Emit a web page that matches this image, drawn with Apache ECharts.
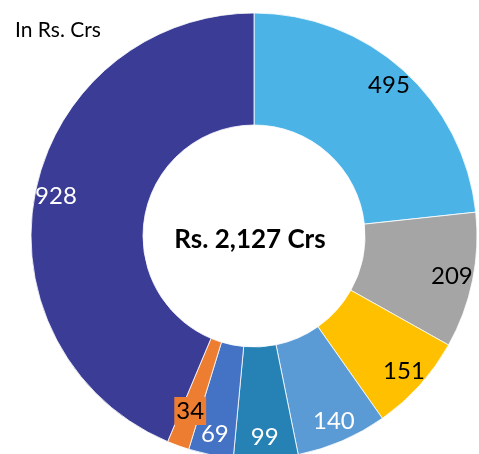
<!DOCTYPE html>
<html>
<head>
<meta charset="utf-8">
<script src="https://cdn.jsdelivr.net/npm/echarts@6/dist/echarts.min.js"></script>
<style>
  html, body { margin: 0; padding: 0; background: #fff; }
  #chart { width: 479px; height: 454px; }
</style>
</head>
<body>
<div id="chart"></div>
<script>
// slice values, clockwise from 12 o'clock
var values = [495, 209, 151, 140, 99, 69, 34, 928];
var colors = ['#4BB3E6', '#A5A5A5', '#FFC000', '#5B9BD5', '#2682B5', '#4472C4', '#ED7D31', '#3A3C95'];
var labelColors = ['#000', '#000', '#000', '#fff', '#fff', '#fff', '#000', '#fff'];
var unitText = 'In Rs. Crs';
var totalText = 'Rs. 2,127 Crs';

var myChart = echarts.init(document.getElementById('chart'));

var ringData = values.map(function (v, i) {
    return { value: v, name: String(i), itemStyle: { color: colors[i] } };
});
var labelData = values.map(function (v, i) {
    var lab = { color: labelColors[i] };
    if (i == 6) {
        // small slice: label sits a bit further in, on an orange box
        lab.backgroundColor = colors[i];
        lab.padding = [3, 2, 1, 2];
        lab.offset = [5, -15];
    }
    return { value: v, name: String(i), label: lab };
});

var option = {
    backgroundColor: '#fff',
    animation: false,
    graphic: [{
        type: 'text',
        left: 15,
        top: 20,
        style: { text: unitText, font: '21px Lato', fill: '#000' }
    }, {
        type: 'text',
        x: 250,
        y: 240,
        style: {
            text: totalText, font: 'bold 26px Lato', fill: '#000',
            align: 'center', verticalAlign: 'middle'
        }
    }],
    series: [
        {
            type: 'pie',
            center: [254, 236],
            radius: [111, 223],
            startAngle: 90,
            clockwise: true,
            silent: true,
            itemStyle: { borderColor: '#fff', borderWidth: 0.8 },
            label: { show: false },
            labelLine: { show: false },
            data: ringData
        },
        {
            // transparent ring, only used to place the labels
            type: 'pie',
            center: [254, 236],
            radius: [111, 287],
            startAngle: 90,
            clockwise: true,
            silent: true,
            avoidLabelOverlap: false,
            itemStyle: { color: 'rgba(0,0,0,0)' },
            label: {
                show: true,
                position: 'inside',
                formatter: '{c}',
                fontFamily: 'Lato',
                fontSize: 24,
                overflow: 'none'
            },
            labelLayout: { hideOverlap: false },
            labelLine: { show: false },
            data: labelData
        }
    ]
};
myChart.setOption(option);
</script>
</body>
</html>
